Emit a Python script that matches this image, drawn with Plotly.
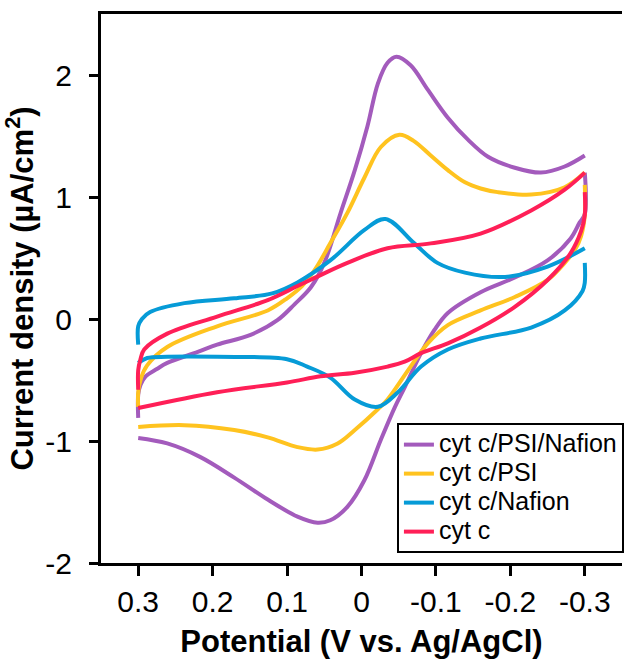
import plotly.graph_objects as go

# ---- data (potential in V vs Ag/AgCl, current density in uA/cm2) ----
series_names = ["cyt c/PSI/Nafion", "cyt c/PSI", "cyt c/Nafion", "cyt c"]
series_colors = ["#A35BBC", "#FFC31F", "#069BD7", "#FF1F57"]

psi_nafion_up_x = [0.3, 0.3, 0.297, 0.29, 0.275, 0.261, 0.22, 0.194, 0.149, 0.113, 0.09, 0.068, 0.05, 0.028,
                   0.009, -0.008, -0.022, -0.035, -0.047, -0.066, -0.089, -0.116, -0.143, -0.17, -0.206,
                   -0.241, -0.273, -0.3]
psi_nafion_up_y = [-0.81, -0.62, -0.54, -0.47, -0.41, -0.36, -0.27, -0.21, -0.13, -0.01, 0.12, 0.26, 0.46, 0.87,
                   1.22, 1.58, 1.93, 2.1, 2.15, 2.08, 1.88, 1.65, 1.47, 1.33, 1.24, 1.2, 1.25, 1.34]
psi_nafion_dn_x = [-0.3, -0.3, -0.293, -0.281, -0.25, -0.206, -0.16, -0.116, -0.098, -0.08, -0.058, -0.045,
                   -0.026, -0.004, 0.019, 0.042, 0.059, 0.086, 0.126, 0.171, 0.217, 0.261, 0.3]
psi_nafion_dn_y = [1.2, 0.86, 0.79, 0.66, 0.48, 0.34, 0.22, 0.05, -0.09, -0.28, -0.56, -0.72, -0.99, -1.32,
                   -1.54, -1.65, -1.67, -1.62, -1.48, -1.3, -1.13, -1.02, -0.975]

psi_up_x = [0.3, 0.3, 0.296, 0.288, 0.261, 0.194, 0.126, 0.1, 0.08, 0.063, 0.042, 0.019, -0.004, -0.026,
            -0.051, -0.07, -0.093, -0.116, -0.139, -0.16, -0.183, -0.228, -0.273, -0.3]
psi_up_y = [-0.72, -0.6, -0.48, -0.38, -0.23, -0.06, 0.07, 0.17, 0.27, 0.4, 0.62, 0.87, 1.16, 1.41, 1.51,
            1.46, 1.34, 1.22, 1.12, 1.07, 1.04, 1.02, 1.08, 1.2]
psi_dn_x = [-0.3, -0.3, -0.295, -0.287, -0.273, -0.25, -0.206, -0.16, -0.116, -0.089, -0.066, -0.035,
            -0.022, 0.009, 0.032, 0.059, 0.086, 0.126, 0.171, 0.238, 0.3]
psi_dn_y = [1.1, 0.85, 0.68, 0.57, 0.46, 0.32, 0.18, 0.07, -0.05, -0.2, -0.39, -0.66, -0.74, -0.91, -1.02,
            -1.07, -1.05, -0.97, -0.91, -0.87, -0.885]

nafion_up_x = [0.3, 0.3, 0.295, 0.284, 0.238, 0.171, 0.12, 0.086, 0.042, -0.004, -0.032, -0.071, -0.102,
               -0.139, -0.193, -0.25, -0.3]
nafion_up_y = [-0.21, -0.06, 0.0, 0.057, 0.13, 0.17, 0.21, 0.3, 0.48, 0.73, 0.82, 0.62, 0.46, 0.38, 0.345,
               0.43, 0.58]
nafion_dn_x = [-0.3, -0.3, -0.297, -0.273, -0.228, -0.16, -0.116, -0.08, -0.049, -0.022, 0.009, 0.042,
               0.073, 0.1, 0.194, 0.261, 0.288, 0.3]
nafion_dn_y = [0.46, 0.3, 0.23, 0.07, -0.07, -0.16, -0.25, -0.39, -0.6, -0.72, -0.66, -0.48, -0.39, -0.33,
               -0.31, -0.31, -0.32, -0.36]

cytc_up_x = [0.3, 0.3, 0.297, 0.292, 0.261, 0.194, 0.126, 0.086, 0.055, 0.019, -0.035, -0.093, -0.16,
             -0.228, -0.273, -0.3]
cytc_up_y = [-0.58, -0.42, -0.33, -0.25, -0.12, 0.02, 0.155, 0.27, 0.36, 0.46, 0.58, 0.62, 0.7, 0.89, 1.06,
             1.2]
cytc_dn_x = [-0.3, -0.3, -0.295, -0.281, -0.25, -0.206, -0.16, -0.116, -0.08, -0.058, -0.035, 0.009, 0.055,
             0.1, 0.194, 0.3]
cytc_dn_y = [1.04, 0.85, 0.72, 0.54, 0.32, 0.1, -0.07, -0.2, -0.28, -0.35, -0.39, -0.44, -0.47, -0.52, -0.6,
             -0.73]

x_tick_vals = [0.3, 0.2, 0.1, 0.0, -0.1, -0.2, -0.3]
x_tick_text = ["0.3", "0.2", "0.1", "0", "-0.1", "-0.2", "-0.3"]
y_tick_vals = [-2, -1, 0, 1, 2]
y_tick_text = ["-2", "-1", "0", "1", "2"]

branches = [
    (psi_nafion_up_x, psi_nafion_up_y, psi_nafion_dn_x, psi_nafion_dn_y),
    (psi_up_x, psi_up_y, psi_dn_x, psi_dn_y),
    (nafion_up_x, nafion_up_y, nafion_dn_x, nafion_dn_y),
    (cytc_up_x, cytc_up_y, cytc_dn_x, cytc_dn_y),
]

FONT = "Liberation Sans, Arial, sans-serif"

fig = go.Figure()
for name, color, (ux, uy, dx, dy) in zip(series_names, series_colors, branches):
    fig.add_trace(go.Scatter(
        x=list(ux) + [None] + list(dx),
        y=list(uy) + [None] + list(dy),
        mode="lines", name='<span style="font-size:25px">' + name + "</span>", connectgaps=False,
        line=dict(color=color, width=4, shape="spline", smoothing=1.0),
    ))

fig.update_layout(
    width=624, height=659,
    margin=dict(l=101, r=0, t=14, b=96),
    paper_bgcolor="white", plot_bgcolor="white",
    font=dict(family=FONT, color="black"),
    showlegend=True,
    legend=dict(
        x=0.568, y=0.018, xanchor="left", yanchor="bottom",
        bgcolor="white", bordercolor="black", borderwidth=2,
        font=dict(size=20, family=FONT, color="black"),
        tracegroupgap=0,
    ),
)
fig.update_xaxes(
    range=[0.35, -0.35], tickmode="array", tickvals=x_tick_vals, ticktext=x_tick_text,
    showline=True, linecolor="black", linewidth=3, mirror=True,
    ticks="outside", ticklen=10, tickwidth=3, tickcolor="black",
    showgrid=False, zeroline=False, automargin=False,
    tickfont=dict(size=30, family=FONT, color="black"),
    title=dict(text="Potential (V vs. Ag/AgCl)", standoff=15,
               font=dict(size=31, family=FONT, color="black", weight="bold")),
)
fig.update_yaxes(
    range=[-2, 2.5], tickmode="array", tickvals=y_tick_vals, ticktext=y_tick_text,
    showline=True, linecolor="black", linewidth=3, mirror=False,
    ticks="outside", ticklen=9, tickwidth=3, tickcolor="black",
    showgrid=False, zeroline=False, automargin=False,
    tickfont=dict(size=30, family=FONT, color="black"),
    ticklabelstandoff=11,
    title=dict(text="Current density (µA/cm<sup>2</sup>)", standoff=6,
               font=dict(size=31, family=FONT, color="black", weight="bold")),
)

# remove the default 8px page margin so the 624x659 figure fills the window exactly
fig.write_html(
    "out.html",
    config={"displayModeBar": False},
    post_script="document.body.style.margin='0';document.body.style.overflow='hidden';",
)
